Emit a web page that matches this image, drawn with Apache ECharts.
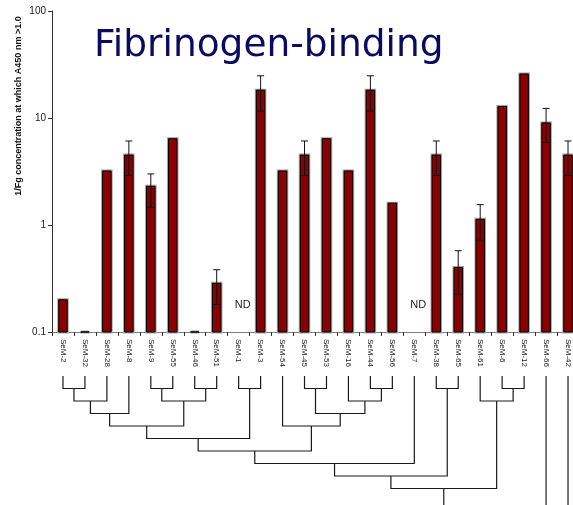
<!DOCTYPE html>
<html><head><meta charset="utf-8">
<script src="https://cdn.jsdelivr.net/npm/echarts@6/dist/echarts.min.js"></script>
<style>html,body{margin:0;padding:0;background:#fff}#c{width:573px;height:505px}</style>
</head><body><div id="c"></div>
<script>
const categories = ['SeM-2','SeM-32','SeM-28','SeM-8','SeM-9','SeM-55','SeM-46','SeM-51','SeM-1','SeM-3','SeM-54','SeM-45','SeM-53','SeM-16','SeM-44','SeM-56','SeM-7','SeM-38','SeM-65','SeM-61','SeM-6','SeM-12','SeM-66','SeM-42'];
const values  = [0.2, 0.1, 3.2, 4.5, 2.3, 6.4, 0.1, 0.285, null, 18.2, 3.2, 4.5, 6.4, 3.2, 18.2, 1.6, null, 4.5, 0.4, 1.13, 12.8, 25.8, 9.0, 4.5];
const errLow  = [null,null,null,2.9,1.46,null,null,0.181,null,11.6,null,2.9,null,null,11.6,null,null,2.9,0.225,0.72,null,null,5.9,2.9];
const errHigh = [null,null,null,6.1,3.0,null,null,0.382,null,24.8,null,6.1,null,null,24.8,null,null,6.1,0.575,1.55,null,null,12.3,6.1];
const yTicks = [0.1, 1, 10, 100];
const title = 'Fibrinogen-binding';
const yName = '1/Fg concentration at which A450 nm >1.0';
const ndText = 'ND';
// dendrogram: [node a, node b, merge height]; leaves are 0..23, new nodes numbered from 24
const merges = [
  [0,1,1],[24,2,2],[25,3,3],[4,5,1],[6,7,1],[27,28,2],[26,29,4],[8,9,1],[30,31,5],
  [11,12,1],[14,15,1],[13,34,2],[33,35,3],[10,36,4],[32,37,6],[38,16,7],[17,18,1],
  [39,40,8],[20,21,1],[19,42,2],[41,43,9]
];
const openRoots = [44, 22, 23];
const rootHeight = 11;

// build dendrogram segments from the tree
const nodeX = categories.map((c,i)=>i), nodeH = categories.map(()=>0);
merges.forEach(m => { nodeX.push((nodeX[m[0]]+nodeX[m[1]])/2); nodeH.push(m[2]); });
const dendroData = merges.map(m => [nodeX[m[0]], nodeH[m[0]], nodeX[m[1]], nodeH[m[1]], m[2]]);
openRoots.forEach(r => dendroData.push([nodeX[r], nodeH[r], nodeX[r], nodeH[r], rootHeight]));

const FONT = 'Liberation Sans, Arial, sans-serif';
const chart = echarts.init(document.getElementById('c'), null, {renderer:'canvas'});
chart.setOption({
  animation: false,
  backgroundColor: '#fff',
  title: {text: title, left: 94, top: 27, padding: 0,
    textStyle: {fontFamily: 'DejaVu Sans', fontSize: 37.5, fontWeight: 'normal', color: '#0a0a62'}},
  graphic: [{type:'text', x: 19, y: 106, rotation: Math.PI/2,
    style: {text: yName, font: 'bold 9px ' + FONT, fill: '#111', align: 'center', verticalAlign: 'middle'}}],
  grid: [
    {left: 52, top: 11, width: 527, height: 321, outerBoundsMode: 'none', containLabel: false},
    {left: 52, top: 376, width: 527, height: 137.5, outerBoundsMode: 'none', containLabel: false}
  ],
  xAxis: [
    {type: 'category', gridIndex: 0, data: categories,
      axisLine: {onZero: false, lineStyle: {color: '#808080', width: 1}},
      axisTick: {show: true, length: 4, lineStyle: {color: '#333'}},
      axisLabel: {rotate: -90, margin: 7, fontSize: 8, fontFamily: FONT, color: '#222'}},
    {type: 'value', gridIndex: 1, min: -0.5, max: 23.5, show: false}
  ],
  yAxis: [
    {type: 'log', logBase: 10, gridIndex: 0, min: yTicks[0], max: yTicks[yTicks.length-1],
      axisLine: {show: true, lineStyle: {color: '#333'}},
      axisTick: {show: true, length: 4, lineStyle: {color: '#333'}},
      splitLine: {show: false}, minorTick: {show: false},
      axisLabel: {fontSize: 10, fontFamily: FONT, color: '#222', margin: 6}},
    {type: 'value', gridIndex: 1, min: 0, max: rootHeight, inverse: true, show: false}
  ],
  series: [
    {type: 'custom', xAxisIndex: 0, yAxisIndex: 0, clip: false,
      data: categories.map((c,i) => [i, values[i] == null ? '-' : values[i]]),
      renderItem: function(params, api) {
        const i = api.value(0), v = api.value(1);
        if (isNaN(v)) {
          const p = api.coord([i, 0.18]);
          return {type: 'text', x: p[0] + 4, y: p[1],
            style: {text: ndText, font: '11px ' + FONT, fill: '#222', align: 'center', verticalAlign: 'middle'}};
        }
        const base = api.coord([i, yTicks[0]]), top = api.coord([i, v]);
        const w = 8.5;
        const shape = {x: top[0] - w/2, y: top[1], width: w, height: base[1] - top[1]};
        return {type: 'group', children: [
          {type: 'rect', shape: shape, style: {fill: 'none', stroke: '#a0a0a0', lineWidth: 3}},
          {type: 'rect', shape: shape, style: {fill: '#8b0000', stroke: '#000', lineWidth: 1}}
        ]};
      }},
    {type: 'custom', xAxisIndex: 0, yAxisIndex: 0, clip: false,
      data: categories.map((c,i) => [i, errLow[i] == null ? '-' : errLow[i], errHigh[i] == null ? '-' : errHigh[i]]),
      renderItem: function(params, api) {
        const i = api.value(0), lo = api.value(1), hi = api.value(2);
        if (isNaN(lo) || isNaN(hi)) return;
        const a = api.coord([i, lo]), b = api.coord([i, hi]);
        const cw = 3.5;
        const st = {stroke: '#111', lineWidth: 1};
        return {type: 'group', children: [
          {type: 'line', shape: {x1: a[0], y1: a[1], x2: b[0], y2: b[1]}, style: st},
          {type: 'line', shape: {x1: a[0]-cw, y1: a[1], x2: a[0]+cw, y2: a[1]}, style: st},
          {type: 'line', shape: {x1: b[0]-cw, y1: b[1], x2: b[0]+cw, y2: b[1]}, style: st}
        ]};
      }},
    {type: 'custom', xAxisIndex: 1, yAxisIndex: 1, clip: false,
      data: dendroData,
      renderItem: function(params, api) {
        const xa = api.value(0), ha = api.value(1), xb = api.value(2), hb = api.value(3), hm = api.value(4);
        const p1 = api.coord([xa, ha]), p2 = api.coord([xa, hm]), p3 = api.coord([xb, hm]), p4 = api.coord([xb, hb]);
        const pts = xa === xb ? [p1, p2] : [p1, p2, p3, p4];
        return {type: 'polyline', shape: {points: pts}, style: {stroke: '#1a1a1a', lineWidth: 1.2, fill: 'none'}};
      }}
  ]
});
</script></body></html>
